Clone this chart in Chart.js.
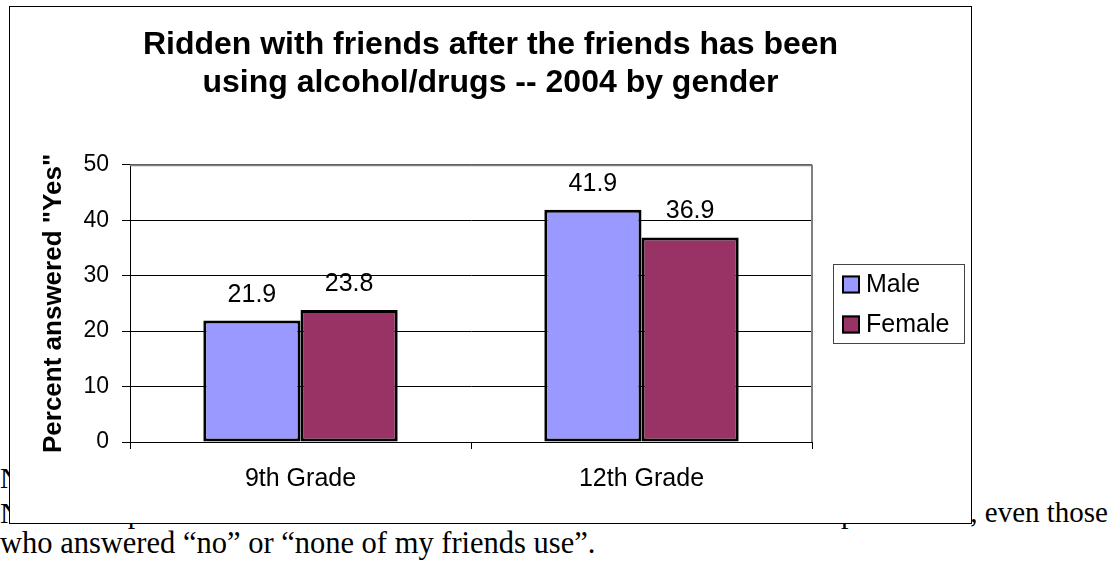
<!DOCTYPE html>
<html><head><meta charset="utf-8">
<script src="https://cdn.jsdelivr.net/npm/chart.js@4"></script>
<style>
html,body{margin:0;padding:0;background:#fff;overflow:hidden;width:1115px;height:563px;}
.t{position:absolute;font-family:"Liberation Serif","Times New Roman",serif;font-size:29px;line-height:33px;color:#000;white-space:nowrap;}
#box{position:absolute;left:9px;top:6px;width:961px;height:516px;border:1px solid #000;background:#fff;z-index:2;}
canvas{display:block;}
</style></head><body>
<div class="t" style="left:0;top:462px">Note: Students were asked about riding with friends in the past 30 days.</div>
<div class="t" style="left:0;top:496px;font-size:30px">Note: The percent is based on all the students in that school who took part in it</div>
<div class="t" style="right:7px;top:496px">, even those</div>
<div class="t" style="left:0;top:527px;font-size:30.5px">who answered “no” or “none of my friends use”.</div>
<div id="box"><canvas id="c" width="961" height="516" style="width:961px;height:516px"></canvas></div>
<script>
const categories = ['9th Grade', '12th Grade'];
const seriesNames = ['Male', 'Female'];
const maleValues = [21.9, 41.9];
const femaleValues = [23.8, 36.9];
const yTicks = [0, 10, 20, 30, 40, 50];
const titleLines = ['Ridden with friends after the friends has been', 'using alcohol/drugs -- 2004 by gender'];
const yAxisTitle = 'Percent answered "Yes"';
const seriesColors = ['#9999FF', '#993366'];

const SANS = '"Liberation Sans", Arial, Helvetica, sans-serif';

const plotFrame = {
  id: 'plotFrame',
  beforeDatasetsDraw(chart) {
    const {ctx, chartArea: a} = chart;
    ctx.save();
    ctx.strokeStyle = '#808080';
    ctx.lineWidth = 2;
    ctx.beginPath();
    ctx.moveTo(a.left, a.top + 0.5);
    ctx.lineTo(a.right, a.top + 0.5);
    ctx.moveTo(a.right, a.top);
    ctx.lineTo(a.right, a.bottom);
    ctx.stroke();
    ctx.restore();
  }
};

const valueLabels = {
  id: 'valueLabels',
  afterDatasetsDraw(chart) {
    const ctx = chart.ctx;
    ctx.save();
    ctx.font = '25px ' + SANS;
    ctx.fillStyle = '#000';
    ctx.textAlign = 'center';
    ctx.textBaseline = 'alphabetic';
    chart.data.datasets.forEach((ds, i) => {
      chart.getDatasetMeta(i).data.forEach((bar, j) => {
        ctx.fillText(ds.data[j].toFixed(1), bar.x, bar.y - 19);
      });
    });
    ctx.restore();
  }
};

const boxLegend = {
  id: 'boxLegend',
  afterDraw(chart) {
    const ctx = chart.ctx;
    const x = 823, y = 257, w = 131, h = 79;
    ctx.save();
    ctx.strokeStyle = '#444';
    ctx.lineWidth = 1;
    ctx.strokeRect(x + 0.5, y + 0.5, w, h);
    ctx.font = '25px ' + SANS;
    ctx.textAlign = 'left';
    ctx.textBaseline = 'middle';
    chart.data.datasets.forEach((ds, i) => {
      const cy = y + 20.5 + i * 40;
      ctx.fillStyle = ds.backgroundColor;
      ctx.fillRect(x + 9, cy - 9, 18, 18);
      ctx.strokeStyle = '#000';
      ctx.lineWidth = 2;
      ctx.strokeRect(x + 10, cy - 8, 16, 16);
      ctx.fillStyle = '#000';
      ctx.fillText(ds.label, x + 33, cy + 1);
    });
    ctx.restore();
  }
};

new Chart(document.getElementById('c'), {
  type: 'bar',
  data: {
    labels: categories,
    datasets: [
      {label: seriesNames[0], data: maleValues, backgroundColor: seriesColors[0], borderColor: '#000', borderWidth: 3, borderSkipped: false},
      {label: seriesNames[1], data: femaleValues, backgroundColor: seriesColors[1], borderColor: '#000', borderWidth: 3, borderSkipped: false}
    ]
  },
  options: {
    responsive: false,
    devicePixelRatio: 1,
    animation: false,
    layout: {padding: 0},
    datasets: {bar: {categoryPercentage: 0.57, barPercentage: 1.0}},
    plugins: {
      legend: {display: false},
      tooltip: {enabled: false},
      title: {
        display: true,
        text: titleLines,
        color: '#000',
        font: {family: SANS, size: 32, weight: 'bold', lineHeight: 1.2},
        padding: {top: 19, bottom: 62}
      }
    },
    scales: {
      x: {
        grid: {display: true, drawOnChartArea: false, drawTicks: true, tickLength: 7, offset: true, color: '#000', lineWidth: 1},
        border: {display: true, color: '#000', width: 1},
        ticks: {font: {family: SANS, size: 25}, color: '#000', padding: 15, maxRotation: 0, autoSkip: false},
        afterFit: s => { s.height = 81; }
      },
      y: {
        min: yTicks[0],
        max: yTicks[yTicks.length - 1],
        afterBuildTicks: s => { s.ticks = yTicks.map(v => ({value: v})); },
        ticks: {font: {family: SANS, size: 23}, color: '#000', padding: 13},
        grid: {color: '#000', lineWidth: 1, tickLength: 8, drawTicks: true},
        border: {display: true, color: '#000', width: 1},
        title: {display: true, text: yAxisTitle, color: '#000', font: {family: SANS, size: 26, weight: 'bold', lineHeight: 1.2}, padding: {top: 28, bottom: 0}},
        afterFit: s => { s.width = 120; }
      },
      yR: {
        position: 'right',
        display: true,
        grid: {display: false, drawTicks: false},
        ticks: {display: false},
        border: {display: false},
        afterFit: s => { s.width = 159; }
      }
    }
  },
  plugins: [plotFrame, valueLabels, boxLegend]
});
</script>
</body></html>
